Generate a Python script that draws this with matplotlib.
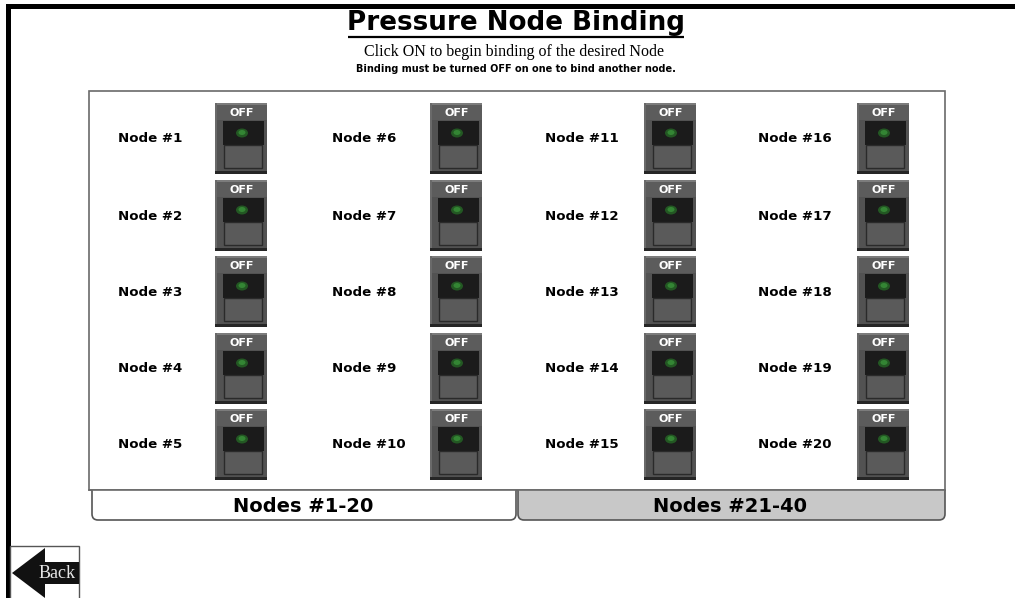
import matplotlib
matplotlib.use("Agg")
import matplotlib.pyplot as plt
from matplotlib.patches import Rectangle, Ellipse, Polygon, PathPatch
from matplotlib.path import Path

# ---- content ----
title = "Pressure Node Binding"
subtitle1 = "Click ON to begin binding of the desired Node"
subtitle2 = "Binding must be turned OFF on one to bind another node."
node_numbers = [1, 2, 3, 4, 5, 6, 7, 8, 9, 10,
                11, 12, 13, 14, 15, 16, 17, 18, 19, 20]
switch_states = ["OFF", "OFF", "OFF", "OFF", "OFF",
                 "OFF", "OFF", "OFF", "OFF", "OFF",
                 "OFF", "OFF", "OFF", "OFF", "OFF",
                 "OFF", "OFF", "OFF", "OFF", "OFF"]
tab_labels = ["Nodes #1-20", "Nodes #21-40"]
back_label = "Back"

# ---- layout ----
W, H = 1015, 598
fig = plt.figure(figsize=(W / 100, H / 100), dpi=100)
ax = fig.add_axes([0, 0, 1, 1])
ax.set_xlim(0, W)
ax.set_ylim(H, 0)
ax.axis("off")

# outer black frame (top and left)
ax.add_patch(Rectangle((6, 4), W - 6, 5, fc="black", ec="none"))
ax.add_patch(Rectangle((6, 4), 5, H - 4, fc="black", ec="none"))

# title
ax.text(516, 22.5, title, ha="center", va="center", fontsize=18.8,
        fontweight="bold", family="DejaVu Sans", color="black")
ax.plot([348, 684], [36.5, 36.5], color="black", lw=1.6, solid_capstyle="butt")
ax.text(514, 52, subtitle1, ha="center", va="center", fontsize=11.5,
        family="Liberation Serif", color="black")
ax.text(516, 69, subtitle2, ha="center", va="center", fontsize=7.0,
        fontweight="bold", family="DejaVu Sans", color="black")

# main panel
ax.add_patch(Rectangle((89, 91), 856, 399, fc="white", ec="#6a6a6a", lw=1.2))

col_label_x = [118, 332, 545, 758]
col_switch_x = [215, 430, 644, 857]
row_top = [103, 180, 256, 333, 409]
sw_w, sw_h = 52, 71


def draw_switch(x, y, state):
    ax.add_patch(Rectangle((x, y), sw_w, sw_h, fc="#525252", ec="none"))
    ax.add_patch(Rectangle((x, y), sw_w, 17, fc="#5c5c5c", ec="none"))
    ax.add_patch(Rectangle((x, y), sw_w, 2, fc="#7c7c7c", ec="none"))
    ax.add_patch(Rectangle((x, y), 2, sw_h, fc="#6a6a6a", ec="none"))
    ax.add_patch(Rectangle((x, y + sw_h - 3), sw_w, 3, fc="#262626", ec="none"))
    ax.text(x + sw_w / 2 + 1, y + 10, state, ha="center", va="center",
            fontsize=8, fontweight="bold", color="white", family="DejaVu Sans")
    ax.add_patch(Rectangle((x + 8, y + 18), sw_w - 11, 24, fc="#1b1b1b", ec="none"))
    cx = x + sw_w / 2 + 1
    ax.add_patch(Ellipse((cx, y + 30), 12, 9, fc="#235823", ec="none"))
    ax.add_patch(Ellipse((cx, y + 29.5), 7, 5, fc="#348534", ec="none"))
    ax.add_patch(Rectangle((x + 9, y + 42), sw_w - 14, 23, fc="#5a5a5a",
                           ec="#2a2a2a", lw=1))


for i, (num, state) in enumerate(zip(node_numbers, switch_states)):
    c, r = divmod(i, 5)
    y = row_top[r]
    ax.text(col_label_x[c], y + 36, f"Node #{num}", ha="left", va="center",
            fontsize=9.6, fontweight="bold", family="DejaVu Sans", color="black")
    draw_switch(col_switch_x[c], y, state)


def tab_path(x0, x1, y0, y1, r):
    verts = [(x0, y0), (x0, y1 - r), (x0, y1), (x0 + r, y1),
             (x1 - r, y1), (x1, y1), (x1, y1 - r), (x1, y0)]
    codes = [Path.MOVETO, Path.LINETO, Path.CURVE3, Path.CURVE3,
             Path.LINETO, Path.CURVE3, Path.CURVE3, Path.LINETO]
    return Path(verts, codes)


ax.add_patch(PathPatch(tab_path(92, 516, 490, 520, 6), fc="white",
                       ec="#555555", lw=1.2))
ax.add_patch(PathPatch(tab_path(518, 945, 490, 520, 6), fc="#c8c8c8",
                       ec="#555555", lw=1.2))
ax.plot([89, 945], [490, 490], color="#6a6a6a", lw=1.2)
ax.text(303, 507, tab_labels[0], ha="center", va="center", fontsize=14,
        fontweight="bold", family="DejaVu Sans", color="black")
ax.text(730, 507, tab_labels[1], ha="center", va="center", fontsize=14,
        fontweight="bold", family="DejaVu Sans", color="black")

# back button
ax.add_patch(Rectangle((10, 546), 69, 60, fc="white", ec="#555555", lw=1))
ax.add_patch(Polygon([(12, 573), (45, 548), (45, 562), (79, 562),
                      (79, 584), (45, 584), (45, 598)],
                     closed=True, fc="#111111", ec="none"))
ax.text(57, 573, back_label, ha="center", va="center", fontsize=13,
        family="Liberation Serif", color="#e6e6e6")

fig.savefig("out.png", dpi=100)
